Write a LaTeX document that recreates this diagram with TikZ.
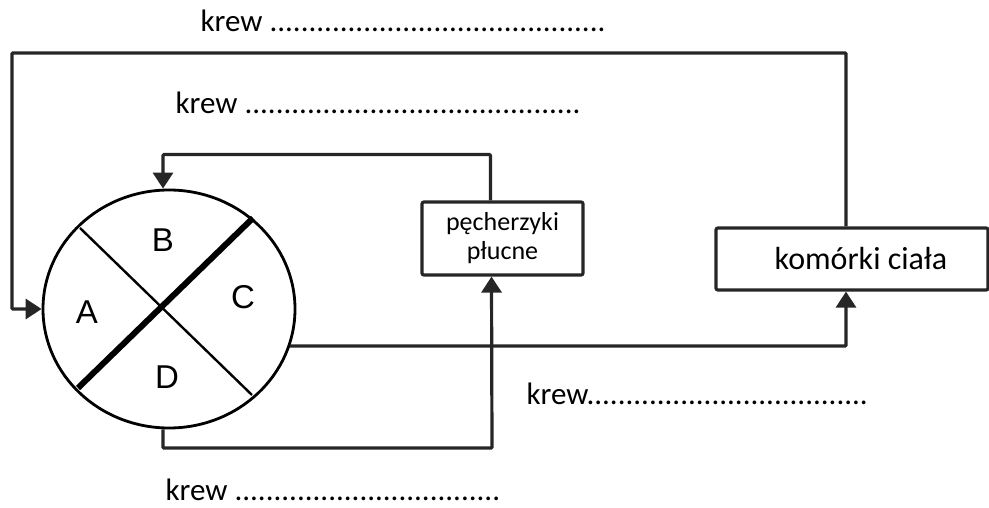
\documentclass[tikz,border=0pt]{standalone}
\usepackage{fontspec}
\setmainfont{Carlito}
\newfontfamily\letterfont{Liberation Sans}
\usepackage{tikz}
\usetikzlibrary{shapes,arrows.meta,positioning,calc}

\begin{document}
\begin{tikzpicture}[
    x=1pt, y=-1pt,
    box/.style={rectangle, draw=black!85, line width=3.2pt, rounded corners=2pt, fill=white},
    line/.style={draw=black!85, line width=3.2pt, rounded corners=1pt, -{Triangle[width=20pt,length=16pt]}},
    part/.style={font=\letterfont\fontsize{33}{33}\selectfont},
    label/.style={anchor=base west, font=\fontsize{31}{34}\selectfont}
]
    \useasboundingbox (0,0) rectangle (989,508);

    % heart
    \node [ellipse, draw, line width=2.8pt, minimum width=252pt, minimum height=238pt, inner sep=0pt] (heart) at (169,309) {};
    \draw [line width=2.4pt] (80,228) -- (252,395);
    \draw [line width=6pt] (253,218) -- (78,388);
    \node [part] (B) at (163,240) {B};
    \node [part] (A) at (87,312) {A};
    \node [part] (C) at (243,297) {C};
    \node [part] (D) at (167,377) {D};

    % boxes
    \node [box, minimum width=161pt, minimum height=73pt, align=center, inner sep=0pt,
           font=\fontsize{26}{29}\selectfont] (lung) at (502.5,238.5) {pęcherzyki\\płucne};
    \node [box, minimum width=272pt, minimum height=62pt, inner sep=0pt,
           font=\fontsize{32}{34}\selectfont] (cells) at (852,259) {\hspace*{18pt}komórki ciała};

    \coordinate (lungin) at ([xshift=-11pt]lung.south);
    \coordinate (lungout) at ([xshift=-12pt]lung.north);
    \coordinate (cellsin) at ([xshift=-6pt]cells.south);
    \coordinate (cellsout) at ([xshift=-6pt]cells.north);

    % connectors
    \draw [line] (lungout) |- ($(heart.north)+(-6,-34)$) -- ([xshift=-6pt]heart.north);
    \draw [line] (cellsout) |- (12,53) |- (heart.west);
    \draw [line] (heart.-17.6) -| (cellsin);
    \draw [line] ([xshift=-6pt]heart.south) |- (492,448) -- (lungin);

    % labels
    \node [label] (top) at (197,32) {krew ...........................................};
    \node [label] (second) at (172,114) {krew ...........................................};
    \node [label] (right) at (523,404) {krew....................................};
    \node [label] (bottom) at (162,500) {krew ..................................};
\end{tikzpicture}
\end{document}
